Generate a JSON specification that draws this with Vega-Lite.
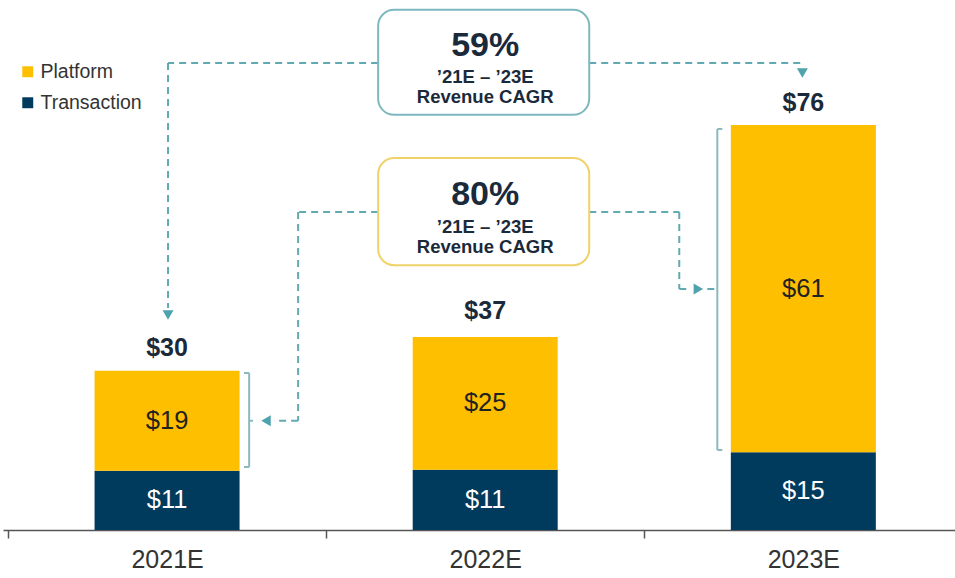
{
  "$schema": "https://vega.github.io/schema/vega-lite/v6.json",
  "width": 952,
  "height": 530,
  "autosize": {"type": "none"},
  "padding": {"left": 3, "top": 0, "right": 0, "bottom": 48},
  "background": "white",
  "config": {"view": {"stroke": null}, "font": "Liberation Sans"},
  "datasets": {
    "segments": [
      {"year": "2021E", "segment": "Transaction", "value": 11.1, "label": "$11"},
      {"year": "2021E", "segment": "Platform", "value": 18.8, "label": "$19"},
      {"year": "2022E", "segment": "Transaction", "value": 11.3, "label": "$11"},
      {"year": "2022E", "segment": "Platform", "value": 24.9, "label": "$25"},
      {"year": "2023E", "segment": "Transaction", "value": 14.6, "label": "$15"},
      {"year": "2023E", "segment": "Platform", "value": 61.4, "label": "$61"}
    ],
    "totals": [
      {"year": "2021E", "total": 30, "label": "$30"},
      {"year": "2022E", "total": 37, "label": "$37"},
      {"year": "2023E", "total": 76, "label": "$76"}
    ],
    "boxes": [
      {"box": "cagr59", "x1": 1.1635, "x2": 1.827, "y1": 97.6, "y2": 77.9},
      {"box": "cagr80", "x1": 1.1635, "x2": 1.827, "y1": 69.8, "y2": 49.7}
    ],
    "boxText": [
      {"x": 1.5, "y": 90.9, "text": "59%", "size": "big"},
      {"x": 1.5, "y": 85.0, "text": "’21E – ’23E", "size": "small"},
      {"x": 1.5, "y": 81.25, "text": "Revenue CAGR", "size": "small"},
      {"x": 1.5, "y": 62.9, "text": "80%", "size": "big"},
      {"x": 1.5, "y": 56.86, "text": "’21E – ’23E", "size": "small"},
      {"x": 1.5, "y": 53.1, "text": "Revenue CAGR", "size": "small"}
    ],
    "dashes": [
      {"x1": 1.1635, "y1": 87.63, "x2": 0.503, "y2": 87.63},
      {"x1": 0.503, "y1": 87.63, "x2": 0.503, "y2": 41.66},
      {"x1": 1.827, "y1": 87.63, "x2": 2.497, "y2": 87.63},
      {"x1": 1.1635, "y1": 59.67, "x2": 0.912, "y2": 59.67},
      {"x1": 0.912, "y1": 59.67, "x2": 0.912, "y2": 20.5},
      {"x1": 0.912, "y1": 20.5, "x2": 0.836, "y2": 20.5},
      {"x1": 1.827, "y1": 59.67, "x2": 2.110, "y2": 59.67},
      {"x1": 2.110, "y1": 59.67, "x2": 2.110, "y2": 45.22},
      {"x1": 2.110, "y1": 45.22, "x2": 2.145, "y2": 45.22},
      {"x1": 2.198, "y1": 45.22, "x2": 2.2296, "y2": 45.22}
    ],
    "arrows": [
      {"x": 0.503, "y": 40.35, "dir": "down"},
      {"x": 2.497, "y": 85.76, "dir": "down"},
      {"x": 0.811, "y": 20.5, "dir": "left"},
      {"x": 2.170, "y": 45.22, "dir": "right"}
    ],
    "brackets": [
      {"x1": 0.758, "y1": 29.46, "x2": 0.758, "y2": 11.82},
      {"x1": 0.742, "y1": 29.46, "x2": 0.758, "y2": 29.46},
      {"x1": 0.742, "y1": 11.82, "x2": 0.758, "y2": 11.82},
      {"x1": 0.758, "y1": 20.5, "x2": 0.7704, "y2": 20.5},
      {"x1": 2.2296, "y1": 75.25, "x2": 2.2296, "y2": 15.01},
      {"x1": 2.2296, "y1": 75.25, "x2": 2.2453, "y2": 75.25},
      {"x1": 2.2296, "y1": 15.01, "x2": 2.2453, "y2": 15.01}
    ]
  },
  "layer": [
    {
      "data": {"name": "segments"},
      "transform": [
        {"stack": "value", "groupby": ["year"], "sort": [{"field": "segment", "order": "descending"}], "as": ["v0", "v1"]},
        {"calculate": "indexof(['2021E','2022E','2023E'], datum.year) + 0.5", "as": "xi"}
      ],
      "mark": {"type": "bar", "width": 145},
      "encoding": {
        "x": {
          "field": "xi", "type": "quantitative",
          "scale": {"domain": [0, 2.961], "nice": false, "zero": false},
          "axis": {
            "title": null, "values": [0, 0.5, 1, 1.5, 2, 2.5],
            "labelExpr": "datum.value === 0.5 ? '2021E' : datum.value === 1.5 ? '2022E' : datum.value === 2.5 ? '2023E' : ''",
            "domainColor": "#555", "domainWidth": 1.5, "tickColor": "#555", "tickWidth": 1.5, "tickSize": 8,
            "tickOpacity": {"condition": {"test": "datum.value % 1 !== 0", "value": 0}, "value": 1},
            "labelFontSize": 25, "labelColor": "#333", "labelPadding": 9, "labelAngle": 0, "grid": false, "labelFlush": false, "labelOverlap": false
          }
        },
        "y": {"field": "v0", "type": "quantitative", "scale": {"domain": [0, 99.45], "nice": false, "zero": true}, "axis": null},
        "y2": {"field": "v1"},
        "color": {
          "field": "segment", "type": "nominal",
          "scale": {"domain": ["Platform", "Transaction"], "range": ["#FDBF00", "#003A5C"]},
          "legend": {"orient": "none", "legendX": 15, "legendY": 62, "title": null, "symbolType": "square", "symbolSize": 120, "labelFontSize": 19.5, "labelColor": "#333", "rowPadding": 10, "labelOffset": 3, "symbolStrokeWidth": 0}
        }
      }
    },
    {
      "data": {"name": "segments"},
      "transform": [
        {"stack": "value", "groupby": ["year"], "sort": [{"field": "segment", "order": "descending"}], "as": ["v0", "v1"]},
        {"calculate": "(datum.v0 + datum.v1) / 2", "as": "mid"},
        {"calculate": "indexof(['2021E','2022E','2023E'], datum.year) + 0.5", "as": "xi"},
        {"filter": "datum.segment === 'Platform'"}
      ],
      "mark": {"type": "text", "fontSize": 25.5, "color": "#222", "baseline": "middle"},
      "encoding": {
        "x": {"field": "xi", "type": "quantitative"},
        "y": {"field": "mid", "type": "quantitative"},
        "text": {"field": "label"}
      }
    },
    {
      "data": {"name": "segments"},
      "transform": [
        {"stack": "value", "groupby": ["year"], "sort": [{"field": "segment", "order": "descending"}], "as": ["v0", "v1"]},
        {"calculate": "(datum.v0 + datum.v1) / 2", "as": "mid"},
        {"calculate": "indexof(['2021E','2022E','2023E'], datum.year) + 0.5", "as": "xi"},
        {"filter": "datum.segment === 'Transaction'"}
      ],
      "mark": {"type": "text", "fontSize": 25.5, "color": "#ffffff", "baseline": "middle"},
      "encoding": {
        "x": {"field": "xi", "type": "quantitative"},
        "y": {"field": "mid", "type": "quantitative"},
        "text": {"field": "label"}
      }
    },
    {
      "data": {"name": "totals"},
      "transform": [
        {"calculate": "indexof(['2021E','2022E','2023E'], datum.year) + 0.5", "as": "xi"}
      ],
      "mark": {"type": "text", "fontSize": 25, "fontWeight": "bold", "color": "#1B2A3A", "baseline": "middle", "dy": -22},
      "encoding": {
        "x": {"field": "xi", "type": "quantitative"},
        "y": {"field": "total", "type": "quantitative"},
        "text": {"field": "label"}
      }
    },
    {
      "data": {"name": "dashes"},
      "mark": {"type": "rule", "color": "#62AAB2", "strokeWidth": 2, "strokeDash": [7, 5]},
      "encoding": {
        "x": {"field": "x1", "type": "quantitative"},
        "x2": {"field": "x2"},
        "y": {"field": "y1", "type": "quantitative"},
        "y2": {"field": "y2"}
      }
    },
    {
      "data": {"name": "brackets"},
      "mark": {"type": "rule", "color": "#8CB9BF", "strokeWidth": 2},
      "encoding": {
        "x": {"field": "x1", "type": "quantitative"},
        "x2": {"field": "x2"},
        "y": {"field": "y1", "type": "quantitative"},
        "y2": {"field": "y2"}
      }
    },
    {
      "data": {"name": "arrows"},
      "mark": {"type": "point", "filled": true, "opacity": 1, "size": 120, "color": "#4FA3AD"},
      "encoding": {
        "x": {"field": "x", "type": "quantitative"},
        "y": {"field": "y", "type": "quantitative"},
        "shape": {"field": "dir", "type": "nominal", "scale": {"domain": ["down", "left", "right"], "range": ["triangle-down", "triangle-left", "triangle-right"]}, "legend": null}
      }
    },
    {
      "data": {"name": "boxes"},
      "mark": {"type": "rect", "fill": "white", "strokeWidth": 2, "cornerRadius": 16},
      "encoding": {
        "x": {"field": "x1", "type": "quantitative"},
        "x2": {"field": "x2"},
        "y": {"field": "y1", "type": "quantitative"},
        "y2": {"field": "y2"},
        "stroke": {"field": "box", "type": "nominal", "scale": {"domain": ["cagr59", "cagr80"], "range": ["#7DB8BE", "#EFD26A"]}, "legend": null}
      }
    },
    {
      "data": {"name": "boxText"},
      "transform": [{"filter": "datum.size === 'big'"}],
      "mark": {"type": "text", "fontSize": 34, "fontWeight": "bold", "color": "#1B2A3A", "baseline": "middle"},
      "encoding": {
        "x": {"field": "x", "type": "quantitative"},
        "y": {"field": "y", "type": "quantitative"},
        "text": {"field": "text"}
      }
    },
    {
      "data": {"name": "boxText"},
      "transform": [{"filter": "datum.size === 'small'"}],
      "mark": {"type": "text", "fontSize": 18.5, "fontWeight": "bold", "color": "#1B2A3A", "baseline": "middle"},
      "encoding": {
        "x": {"field": "x", "type": "quantitative"},
        "y": {"field": "y", "type": "quantitative"},
        "text": {"field": "text"}
      }
    }
  ]
}
